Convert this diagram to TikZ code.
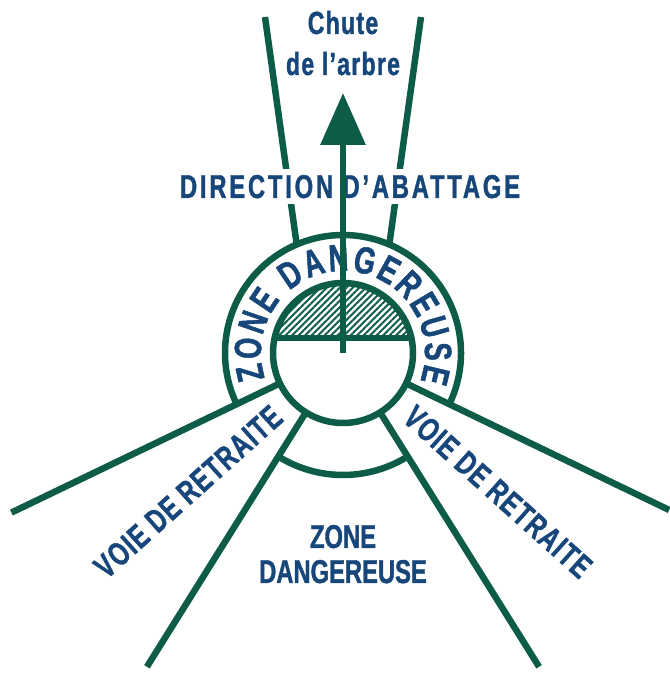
\documentclass[tikz,border=0pt]{standalone}
\usepackage{fontspec}
\usepackage{xcolor}
\usepackage{tikz}
\usetikzlibrary{arrows.meta, calc, decorations.text, patterns.meta}
\newfontfamily\signfont{Liberation Sans Bold}[FakeStretch=0.72, FakeBold=1.2]
\definecolor{forest}{RGB}{12,92,72}
\definecolor{signblue}{RGB}{22,70,122}

\begin{document}
\begin{tikzpicture}[x=1pt, y=1pt,
    line/.style={draw=forest, line width=6.5pt},
    hatch/.style={pattern={Lines[angle=45, distance=4.6pt, line width=2pt]}, pattern color=forest},
    arrow/.style={line, -{Triangle[length=52pt, width=44pt]}},
    sign/.style={text=signblue, inner sep=0pt, font=\signfont\fontsize{33}{36}\selectfont},
    small/.style={sign, font=\signfont\fontsize{32}{36}\selectfont\addfontfeature{LetterSpace=4}},
    slanted/.style={sign, font=\signfont\fontsize{33}{36}\selectfont\addfontfeature{LetterSpace=4}},
    wide/.style={sign, fill=white, inner sep=6pt, font=\signfont\fontsize{33}{36}\selectfont\addfontfeature{LetterSpace=8.5}}
]
\useasboundingbox (0,0) rectangle (670,673);
\coordinate (c) at (343,320);
\coordinate (tipL) at (265,656);
\coordinate (tipR) at (421,656);
\coordinate (arrowtip) at (343,580);

\path[hatch] ($(c)+(12.4:70)$) arc[start angle=12.4, end angle=167.6, radius=70] -- cycle;
\draw[line] (c) circle[radius=70];
\draw[line] ($(c)+(167.6:70)$) -- ($(c)+(12.4:70)$);
\draw[line] ($(c)+(-25.7:118)$) arc[start angle=-25.7, end angle=205.7, radius=118];
\draw[line] ($(c)+(238:122)$) arc[start angle=238, end angle=302, radius=122];
\foreach \ang/\len in {205.7/368, 238/370, 302/370, -25.7/362}
  \draw[line] ($(c)+(\ang:70)$) -- ($(c)+(\ang:\len)$);
\draw[line] ($(c)+(113.1:118)$) -- (tipL);
\draw[line] ($(c)+(66.9:118)$) -- (tipR);

\node[small, anchor=base] (chute) at (343,639) {Chute};
\node[small, anchor=base] (arbre) at (343,598) {de l’arbre};
\node[wide, anchor=base] (direction) at (350,475) {DIRECTION D’ABATTAGE};
\node[sign, anchor=base] (zone) at (343,125) {ZONE};
\node[sign, anchor=base] (danger) at (343,90) {DANGEREUSE};
\node[slanted, rotate=41.85] (voieL) at ($(c)+(221.85:208)$) {VOIE DE RETRAITE};
\node[slanted, rotate=-41.85] (voieR) at ($(c)+(-41.85:208)$) {VOIE DE RETRAITE};
\path[decorate, decoration={text along path, text color=signblue, text align={fit to path},
    text={|\signfont\fontsize{38}{40}\selectfont|ZONE DANGEREUSE}}]
  ($(c)+(198:82)$) arc[start angle=198, end angle=-20, radius=82];

\draw[arrow] (c) -- (arrowtip);
\end{tikzpicture}
\end{document}
